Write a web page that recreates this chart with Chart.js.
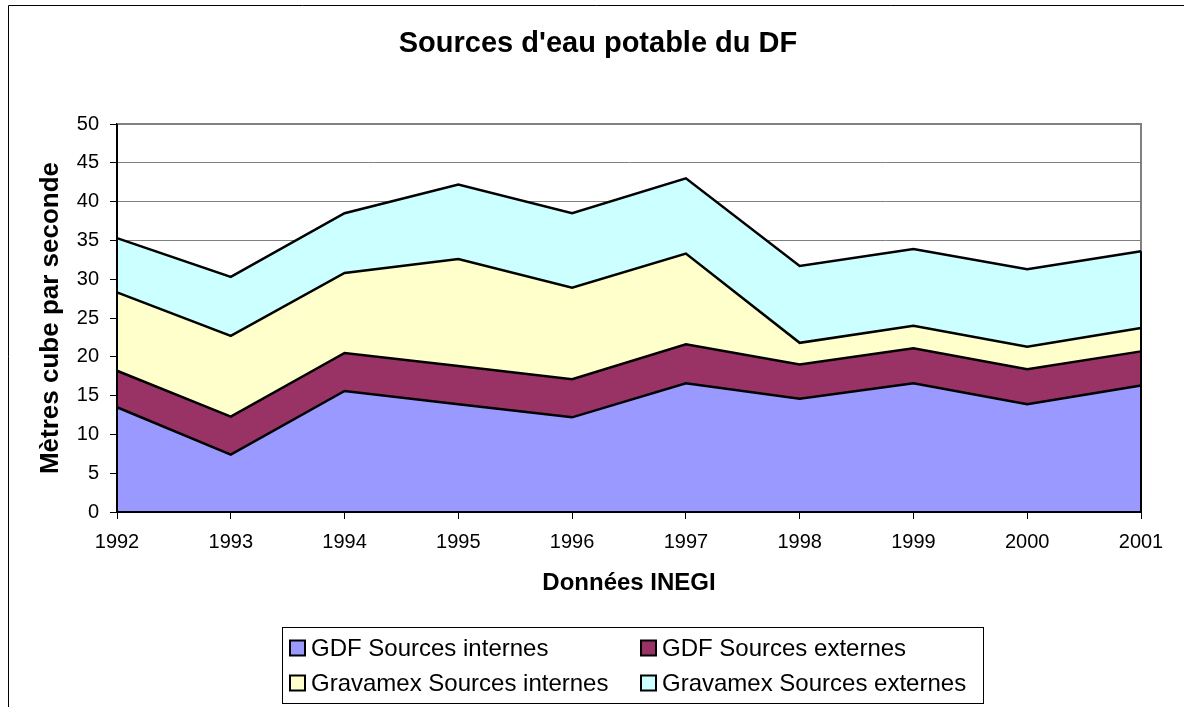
<!DOCTYPE html>
<html>
<head>
<meta charset="utf-8">
<script src="https://cdn.jsdelivr.net/npm/chart.js@4.4.1/dist/chart.umd.min.js"></script>
<style>
  html, body { margin: 0; padding: 0; background: #fff; }
  #wrap { width: 1184px; height: 707px; }
</style>
</head>
<body>
<div id="wrap"><canvas id="myChart" width="1184" height="707"></canvas></div>
<script>
const ANNEES = ['1992', '1993', '1994', '1995', '1996', '1997', '1998', '1999', '2000', '2001'];
const GDF_INTERNES = [13.5, 7.4, 15.6, 13.9, 12.2, 16.6, 14.6, 16.6, 13.9, 16.3];
const GDF_EXTERNES = [4.7, 4.9, 4.9, 4.9, 4.9, 5.0, 4.4, 4.5, 4.5, 4.4];
const GRAVAMEX_INTERNES = [10.1, 10.4, 10.3, 13.8, 11.8, 11.7, 2.8, 2.9, 2.9, 3.0];
const GRAVAMEX_EXTERNES = [7.0, 7.6, 7.7, 9.6, 9.6, 9.7, 9.9, 9.9, 10.0, 9.9];
const LIBELLES = ['GDF Sources internes', 'GDF Sources externes', 'Gravamex Sources internes', 'Gravamex Sources externes'];
const COULEURS = ['#9999ff', '#993366', '#ffffcc', '#ccffff'];
const TITRE = "Sources d'eau potable du DF";

Chart.defaults.font.family = "'Liberation Sans', Arial, sans-serif";
Chart.defaults.color = '#000';

function serie(i, valeurs) {
    return {
        label: LIBELLES[i],
        data: valeurs,
        backgroundColor: COULEURS[i],
        borderColor: '#000',
        borderWidth: 2.5,
        pointRadius: 0,
        tension: 0,
        fill: i === 0 ? 'origin' : '-1'
    };
}

// titre, cadre, bords du graphique et légende à deux colonnes
const decor = {
    id: 'decor',
    beforeDatasetsDraw(chart) {
        const {ctx, chartArea: a} = chart;
        ctx.save();
        ctx.strokeStyle = '#808080';
        ctx.lineWidth = 2;
        ctx.beginPath();
        ctx.moveTo(a.left, a.top);
        ctx.lineTo(a.right, a.top);
        ctx.lineTo(a.right, a.bottom);
        ctx.stroke();
        ctx.restore();
    },
    afterDatasetsDraw(chart) {
        const {ctx, chartArea: a} = chart;
        const meta = chart.getDatasetMeta(chart.data.datasets.length - 1);
        const last = meta.data[meta.data.length - 1];
        ctx.save();
        ctx.strokeStyle = '#000';
        ctx.lineWidth = 2;
        ctx.beginPath();
        ctx.moveTo(a.left, a.top);
        ctx.lineTo(a.left, a.bottom);
        ctx.lineTo(a.right, a.bottom);
        ctx.lineTo(a.right, last.y);
        ctx.stroke();
        ctx.restore();
    },
    afterDraw(chart) {
        const ctx = chart.ctx;
        ctx.save();
        // titre
        ctx.fillStyle = '#000';
        ctx.font = "bold 29px 'Liberation Sans', Arial, sans-serif";
        ctx.textAlign = 'center';
        ctx.textBaseline = 'middle';
        ctx.fillText(TITRE, 598, 44);
        // cadre extérieur
        ctx.strokeStyle = '#000';
        ctx.lineWidth = 1;
        ctx.beginPath();
        ctx.moveTo(8.5, 707);
        ctx.lineTo(8.5, 5.5);
        ctx.lineTo(1184, 5.5);
        ctx.stroke();
        // légende
        ctx.strokeRect(282.5, 627.5, 701, 76);
        const colX = [290, 641];
        const rowY = [648, 683];
        ctx.font = "24px 'Liberation Sans', Arial, sans-serif";
        ctx.textAlign = 'left';
        chart.data.datasets.forEach(function(ds, i) {
            const x = colX[i % 2], y = rowY[Math.floor(i / 2)];
            ctx.fillStyle = ds.backgroundColor;
            ctx.fillRect(x, y - 7.5, 15, 15);
            ctx.lineWidth = 2;
            ctx.strokeRect(x, y - 7.5, 15, 15);
            ctx.fillStyle = '#000';
            ctx.fillText(ds.label, x + 21, y + 1);
        });
        ctx.restore();
    }
};

var ctx = document.getElementById('myChart').getContext('2d');
var myChart = new Chart(ctx, {
    type: 'line',
    data: {
        labels: ANNEES,
        datasets: [
            serie(0, GDF_INTERNES),
            serie(1, GDF_EXTERNES),
            serie(2, GRAVAMEX_INTERNES),
            serie(3, GRAVAMEX_EXTERNES)
        ]
    },
    options: {
        responsive: false,
        animation: false,
        layout: { padding: { top: 124, left: 0, right: 43, bottom: 95 } },
        plugins: {
            legend: { display: false },
            tooltip: { enabled: false },
            title: { display: false }
        },
        scales: {
            x: {
                offset: false,
                afterFit: function(scale) { scale.height = 100; },
                grid: { drawOnChartArea: false, drawTicks: true, tickLength: 7, tickColor: '#000', tickWidth: 1 },
                border: { display: true, color: '#000', width: 2 },
                ticks: { font: { size: 20 }, color: '#000', padding: 11, maxRotation: 0 },
                title: {
                    display: true,
                    text: 'Données INEGI',
                    font: { size: 24, weight: 'bold' },
                    color: '#000',
                    padding: { top: 0, bottom: 14.6 }
                }
            },
            y: {
                stacked: true,
                min: 0,
                max: 50,
                afterFit: function(scale) { scale.width = 117; },
                grid: { color: '#808080', lineWidth: 1, drawTicks: true, tickLength: 7, tickColor: '#000' },
                border: { display: true, color: '#000', width: 2 },
                ticks: { stepSize: 5, font: { size: 20 }, color: '#000', padding: 11 },
                title: {
                    display: true,
                    text: 'Mètres cube par seconde',
                    font: { size: 26, weight: 'bold' },
                    color: '#000',
                    padding: { top: 35.4, bottom: 0 }
                }
            }
        }
    },
    plugins: [decor]
});
</script>
</body>
</html>
